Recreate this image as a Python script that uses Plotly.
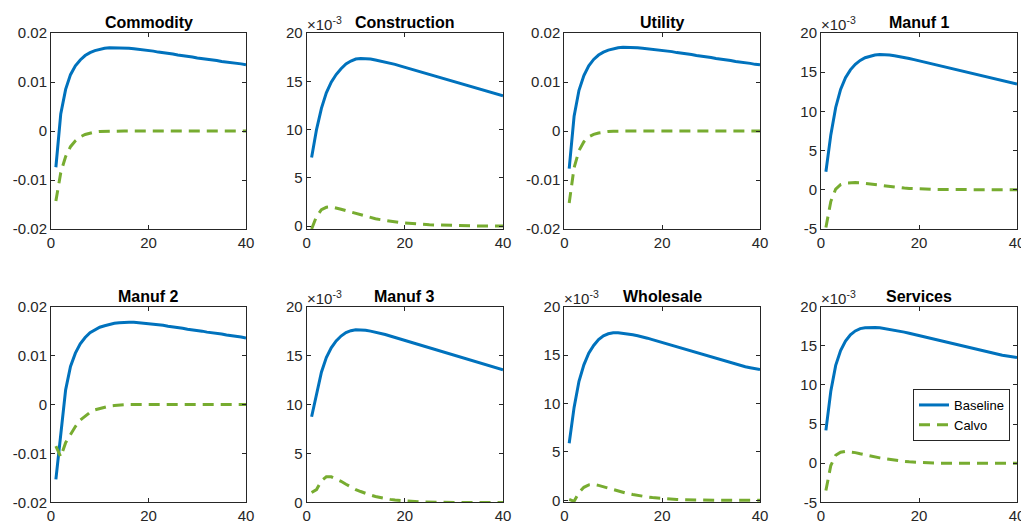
import plotly.graph_objects as go
from plotly.subplots import make_subplots

t = list(range(1, 41))

titles = ["Commodity", "Construction", "Utility", "Manuf 1",
          "Manuf 2", "Manuf 3", "Wholesale", "Services"]

# values in natural units for Commodity/Utility/Manuf 2, in 1e-3 units for others
commodity_base = [-0.0074, 0.0035, 0.0085, 0.0115, 0.0133, 0.0145, 0.0154, 0.0160, 0.0164, 0.0167,
                  0.0169, 0.0170, 0.0170, 0.0170, 0.0169, 0.0169, 0.0168, 0.0167, 0.0166, 0.0164,
                  0.0163, 0.0161, 0.0160, 0.0158, 0.0157, 0.0155, 0.0154, 0.0152, 0.0151, 0.0149,
                  0.0148, 0.0146, 0.0145, 0.0144, 0.0142, 0.0141, 0.0139, 0.0138, 0.0137, 0.0135]
commodity_calvo = [-0.0143, -0.0085, -0.0052, -0.0032, -0.0020, -0.0012, -0.0007, -0.0004, -0.0002, -0.0001,
                   -0.00005, 0, 0, 0, 0, 0, 0, 0, 0, 0,
                   0, 0, 0, 0, 0, 0, 0, 0, 0, 0,
                   0, 0, 0, 0, 0, 0, 0, 0, 0, 0]
construction_base = [7.1, 10.0, 12.2, 13.8, 14.9, 15.7, 16.3, 16.8, 17.1, 17.3,
                     17.35, 17.35, 17.3, 17.2, 17.1, 17.0, 16.9, 16.75, 16.6, 16.45,
                     16.3, 16.15, 16.0, 15.85, 15.7, 15.55, 15.4, 15.25, 15.1, 14.95,
                     14.8, 14.65, 14.5, 14.4, 14.25, 14.1, 13.95, 13.8, 13.65, 13.5]
construction_calvo = [-0.3, 1.0, 1.7, 1.95, 2.0, 1.9, 1.75, 1.6, 1.45, 1.3,
                      1.15, 1.0, 0.88, 0.77, 0.67, 0.58, 0.5, 0.43, 0.37, 0.32,
                      0.27, 0.23, 0.2, 0.17, 0.14, 0.12, 0.1, 0.08, 0.07, 0.06,
                      0.05, 0.04, 0.03, 0.03, 0.02, 0.02, 0.01, 0.01, 0.01, 0.01]
utility_base = [-0.0077, 0.0030, 0.0083, 0.0113, 0.0133, 0.0146, 0.0155, 0.0161, 0.0165, 0.0168,
                0.0170, 0.0171, 0.0171, 0.0171, 0.0170, 0.0169, 0.0168, 0.0167, 0.0166, 0.0165,
                0.0163, 0.0162, 0.0160, 0.0159, 0.0157, 0.0156, 0.0154, 0.0153, 0.0151, 0.0150,
                0.0148, 0.0147, 0.0145, 0.0144, 0.0142, 0.0141, 0.0139, 0.0138, 0.0136, 0.0135]
utility_calvo = [-0.0147, -0.0075, -0.0040, -0.0022, -0.0012, -0.0007, -0.0004, -0.0002, -0.0001, -0.00005,
                 0, 0, 0, 0, 0, 0, 0, 0, 0, 0,
                 0, 0, 0, 0, 0, 0, 0, 0, 0, 0,
                 0, 0, 0, 0, 0, 0, 0, 0, 0, 0]
manuf1_base = [2.3, 7.0, 10.5, 12.8, 14.3, 15.3, 16.0, 16.5, 16.85, 17.05,
               17.2, 17.25, 17.25, 17.2, 17.1, 17.0, 16.9, 16.75, 16.6, 16.45,
               16.3, 16.15, 16.0, 15.85, 15.7, 15.55, 15.4, 15.25, 15.1, 14.95,
               14.8, 14.65, 14.5, 14.4, 14.25, 14.1, 13.95, 13.8, 13.65, 13.5]
manuf1_calvo = [-4.8, -1.5, 0.1, 0.65, 0.85, 0.92, 0.92, 0.88, 0.8, 0.72,
                0.63, 0.55, 0.47, 0.4, 0.33, 0.27, 0.22, 0.18, 0.14, 0.11,
                0.09, 0.07, 0.05, 0.04, 0.03, 0.02, 0.02, 0.01, 0.01, 0.01,
                0, 0, 0, 0, 0, 0, 0, 0, 0, 0]
manuf2_base = [-0.0153, -0.0068, 0.0030, 0.0078, 0.0105, 0.0124, 0.0137, 0.0147, 0.0153, 0.0158,
               0.0161, 0.0164, 0.0166, 0.0167, 0.0168, 0.0168, 0.0168, 0.0167, 0.0167, 0.0166,
               0.0165, 0.0163, 0.0162, 0.0160, 0.0159, 0.0157, 0.0156, 0.0154, 0.0153, 0.0151,
               0.0150, 0.0148, 0.0147, 0.0145, 0.0144, 0.0142, 0.0141, 0.0139, 0.0138, 0.0136]
manuf2_calvo = [-0.0085, -0.0107, -0.0078, -0.0060, -0.0045, -0.0032, -0.0023, -0.0016, -0.0011, -0.0008,
                -0.0005, -0.0003, -0.0002, -0.0001, -0.00005, 0, 0, 0, 0, 0,
                0, 0, 0, 0, 0, 0, 0, 0, 0, 0,
                0, 0, 0, 0, 0, 0, 0, 0, 0, 0]
manuf3_base = [8.75, 11.1, 13.3, 14.8, 15.8, 16.5, 17.0, 17.35, 17.55, 17.65,
               17.65, 17.6, 17.5, 17.4, 17.3, 17.15, 17.0, 16.85, 16.7, 16.55,
               16.4, 16.25, 16.1, 15.95, 15.8, 15.65, 15.5, 15.35, 15.2, 15.05,
               14.9, 14.75, 14.6, 14.45, 14.3, 14.15, 14.0, 13.85, 13.7, 13.55]
manuf3_calvo = [1.0, 1.3, 2.2, 2.6, 2.6, 2.4, 2.15, 1.85, 1.55, 1.3,
                1.1, 0.9, 0.75, 0.6, 0.48, 0.38, 0.3, 0.23, 0.18, 0.14,
                0.1, 0.07, 0.05, 0.03, 0.01, 0.0, -0.01, -0.02, -0.02, -0.03,
                -0.03, -0.03, -0.03, -0.03, -0.03, -0.03, -0.03, -0.03, -0.03, -0.03]
wholesale_base = [5.9, 9.6, 12.3, 14.0, 15.2, 16.0, 16.6, 17.0, 17.2, 17.3,
                  17.3, 17.25, 17.2, 17.1, 17.0, 16.9, 16.75, 16.6, 16.45, 16.3,
                  16.15, 16.0, 15.85, 15.7, 15.55, 15.4, 15.25, 15.1, 14.95, 14.8,
                  14.65, 14.5, 14.35, 14.2, 14.1, 13.95, 13.8, 13.7, 13.6, 13.5]
wholesale_calvo = [0.1, -0.1, 0.8, 1.35, 1.6, 1.65, 1.55, 1.4, 1.25, 1.1,
                   0.95, 0.82, 0.7, 0.6, 0.5, 0.42, 0.35, 0.29, 0.24, 0.2,
                   0.16, 0.13, 0.1, 0.08, 0.06, 0.05, 0.04, 0.03, 0.02, 0.02,
                   0.01, 0.01, 0.01, 0, 0, 0, 0, 0, 0, 0]
services_base = [4.2, 9.2, 12.5, 14.4, 15.6, 16.4, 16.9, 17.2, 17.3, 17.35,
                 17.35, 17.3, 17.2, 17.1, 17.0, 16.9, 16.75, 16.6, 16.45, 16.3,
                 16.15, 16.0, 15.85, 15.7, 15.55, 15.4, 15.25, 15.1, 14.95, 14.8,
                 14.65, 14.5, 14.4, 14.25, 14.1, 13.95, 13.8, 13.7, 13.6, 13.5]
services_calvo = [-3.5, -0.3, 1.0, 1.4, 1.5, 1.45, 1.35, 1.2, 1.05, 0.92,
                  0.8, 0.68, 0.57, 0.47, 0.38, 0.3, 0.23, 0.17, 0.12, 0.08,
                  0.05, 0.03, 0.01, 0.0, -0.01, -0.01, -0.01, -0.01, -0.01, 0,
                  0, 0, 0, 0, 0, 0, 0, 0, 0, 0]

baseline = [commodity_base, construction_base, utility_base, manuf1_base,
            manuf2_base, manuf3_base, wholesale_base, services_base]
calvo = [commodity_calvo, construction_calvo, utility_calvo, manuf1_calvo,
         manuf2_calvo, manuf3_calvo, wholesale_calvo, services_calvo]

scaled = [False, True, False, True, False, True, True, True]

y_ranges = [[-0.02, 0.02], [-0.3, 20], [-0.02, 0.02], [-5, 20],
            [-0.02, 0.02], [0, 20], [-0.2, 20], [-5, 20]]
y_ticks = [[-0.02, -0.01, 0, 0.01, 0.02], [0, 5, 10, 15, 20],
           [-0.02, -0.01, 0, 0.01, 0.02], [-5, 0, 5, 10, 15, 20],
           [-0.02, -0.01, 0, 0.01, 0.02], [0, 5, 10, 15, 20],
           [0, 5, 10, 15, 20], [-5, 0, 5, 10, 15, 20]]
y_ticktext = [["-0.02", "-0.01", "0", "0.01", "0.02"], ["0", "5", "10", "15", "20"],
              ["-0.02", "-0.01", "0", "0.01", "0.02"], ["-5", "0", "5", "10", "15", "20"],
              ["-0.02", "-0.01", "0", "0.01", "0.02"], ["0", "5", "10", "15", "20"],
              ["0", "5", "10", "15", "20"], ["-5", "0", "5", "10", "15", "20"]]
x_ticks = [0, 20, 40]

W, H = 1021, 527
x_px = [(51, 246), (306.7, 503), (564.3, 760), (821, 1017)]
y_px = [(33, 229), (306.7, 502.3)]

BLUE = "#0072BD"
GREEN = "#77AC30"
AX = "#262626"
FONT = "Liberation Sans, Arial, Helvetica, sans-serif"

fig = make_subplots(rows=2, cols=4)

annotations = []
for i in range(8):
    r, c = divmod(i, 4)
    fig.add_trace(go.Scatter(x=t, y=baseline[i], mode="lines", name="Baseline",
                             line=dict(color=BLUE, width=3),
                             showlegend=(i == 7), legendrank=1),
                  row=r + 1, col=c + 1)
    fig.add_trace(go.Scatter(x=t, y=calvo[i], mode="lines", name="Calvo",
                             line=dict(color=GREEN, width=3, dash="11px,7px"),
                             showlegend=(i == 7), legendrank=2),
                  row=r + 1, col=c + 1)
    n = "" if i == 0 else str(i + 1)
    x0, x1 = x_px[c]
    ytop, ybot = y_px[r]
    xd = [x0 / W, x1 / W]
    yd = [1 - ybot / H, 1 - ytop / H]
    fig.layout["xaxis" + n].update(
        domain=xd, range=[0, 40], tickvals=x_ticks, ticktext=[str(v) for v in x_ticks],
        showline=True, linecolor=AX, linewidth=1, mirror="ticks",
        ticks="inside", ticklen=4, tickcolor=AX, tickwidth=1,
        showgrid=False, zeroline=False, automargin=False,
        ticklabeloverflow="allow",
        tickfont=dict(family=FONT, size=15, color=AX))
    fig.layout["yaxis" + n].update(
        domain=yd, range=y_ranges[i], tickvals=y_ticks[i], ticktext=y_ticktext[i],
        showline=True, linecolor=AX, linewidth=1, mirror="ticks",
        ticks="inside", ticklen=4, tickcolor=AX, tickwidth=1,
        showgrid=False, zeroline=False, automargin=False,
        tickfont=dict(family=FONT, size=15, color=AX))
    annotations.append(dict(text="<b>" + titles[i] + "</b>", xref="paper", yref="paper",
                            x=(xd[0] + xd[1]) / 2, y=yd[1], xanchor="center", yanchor="bottom",
                            yshift=0, showarrow=False,
                            font=dict(family=FONT, size=16, color="black")))
    if scaled[i]:
        annotations.append(dict(text="×10<sup>-3</sup>", xref="paper", yref="paper",
                                x=xd[0], y=yd[1], xanchor="left", yanchor="bottom",
                                xshift=-2, yshift=-2, showarrow=False,
                                font=dict(family=FONT, size=15, color=AX)))

fig.update_layout(
    width=W, height=H,
    margin=dict(l=0, r=0, t=0, b=0, autoexpand=False),
    paper_bgcolor="white", plot_bgcolor="white",
    annotations=annotations,
    legend=dict(x=913 / W, y=1 - 389 / H, xanchor="left", yanchor="top",
                bordercolor=AX, borderwidth=1, bgcolor="white",
                font=dict(family=FONT, size=13, color="black"),
                tracegroupgap=0, itemwidth=30),
)

fig.write_html("out.html", config={"displayModeBar": False},
               post_script="document.body.style.margin='0';document.body.style.padding='0';document.body.style.overflow='hidden';")
